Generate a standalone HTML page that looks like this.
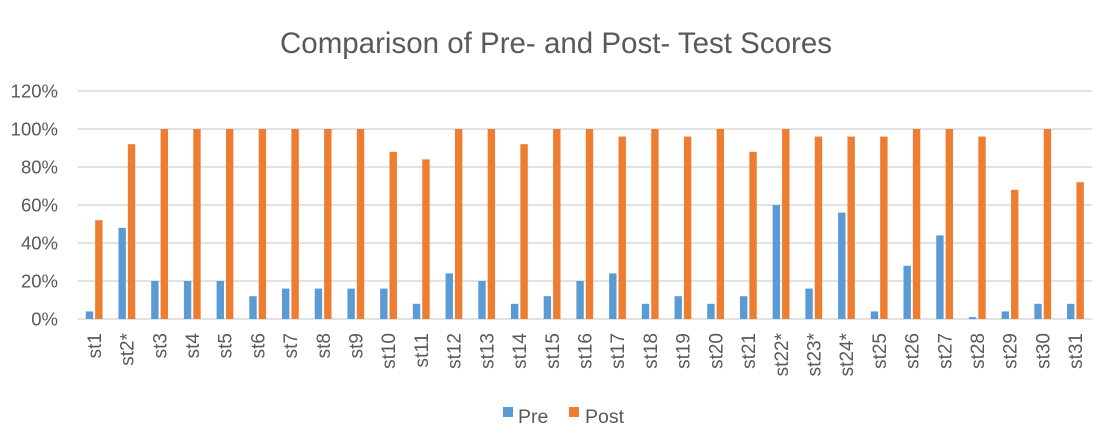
<!DOCTYPE html>
<html><head><meta charset="utf-8"><style>
html,body{margin:0;padding:0;background:#fff;}
svg{display:block;font-family:"Liberation Sans",Calibri,sans-serif;}
</style></head><body>
<svg id="c" width="1113" height="448" viewBox="0 0 1113 448" xmlns="http://www.w3.org/2000/svg">
<rect width="1113" height="448" fill="#fff"/>
<text x="556" y="53" text-anchor="middle" font-size="29.5" fill="#595959">Comparison of Pre- and Post- Test Scores</text>
<g id="g"></g>
<rect x="503" y="407" width="10" height="10" fill="#5b9bd5"/>
<text x="518" y="423" font-size="19.5" fill="#595959">Pre</text>
<rect x="569" y="407" width="10" height="10" fill="#ed7d31"/>
<text x="585" y="423" font-size="19.5" fill="#595959">Post</text>
</svg>
<script>
var d=[[4,52],[48,92],[20,100],[20,100],[20,100],[12,100],[16,100],[16,100],[16,100],[16,88],[8,84],[24,100],[20,100],[8,92],[12,100],[20,100],[24,96],[8,100],[12,96],[8,100],[12,88],[60,100],[16,96],[56,96],[4,96],[28,100],[44,100],[1,96],[4,68],[8,100],[8,72]];
var lab=["st1","st2*","st3","st4","st5","st6","st7","st8","st9","st10","st11","st12","st13","st14","st15","st16","st17","st18","st19","st20","st21","st22*","st23*","st24*","st25","st26","st27","st28","st29","st30","st31"];
var s="",x0=78,x1=1092,y0=319,k=1.9,cw=(x1-x0)/31;
for(var i=0;i<=6;i++){var y=y0-i*38;s+='<line x1="'+x0+'" x2="'+x1+'" y1="'+y+'" y2="'+y+'" stroke="#d9d9d9" stroke-width="1.5"/>';
s+='<text x="58" y="'+(y+6.5)+'" text-anchor="end" font-size="18.5" fill="#595959">'+(i*20)+'%</text>';}
for(var j=0;j<31;j++){var c=x0+cw*(j+.5);var p=d[j][0]*k,q=d[j][1]*k;
s+='<rect x="'+(c-8.6)+'" y="'+(y0-p)+'" width="7.4" height="'+p+'" fill="#5b9bd5"/>';
s+='<rect x="'+(c+0.8)+'" y="'+(y0-q)+'" width="7.4" height="'+q+'" fill="#ed7d31"/>';
s+='<text transform="translate('+(c+6.5)+',333) rotate(-90)" text-anchor="end" font-size="19" fill="#595959">'+lab[j]+'</text>';}
document.getElementById("g").innerHTML=s;
</script>
</body></html>
